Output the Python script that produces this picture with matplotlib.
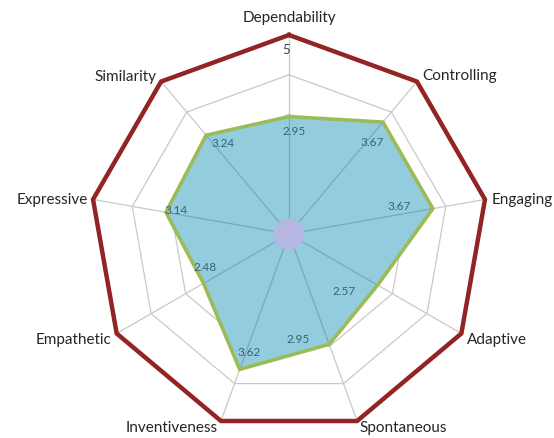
import numpy as np
from matplotlib import pyplot as plt

# categories clockwise from the top
categories = ['Dependability', 'Controlling', 'Engaging', 'Adaptive', 'Spontaneous',
              'Inventiveness', 'Empathetic', 'Expressive', 'Similarity']
scores = [2.95, 3.67, 3.67, 2.57, 2.95, 3.62, 2.48, 3.14, 3.24]
outer = [5] * len(categories)       # the red "max" series
inner = [0.38] * len(categories)    # small lavender series at the centre
grid_levels = [1, 2, 3, 4]
axis_max = 5

# label offsets in points (hand placed to match the reference)
value_offsets = [(4, -10), (-8, -14), (-24, 2), (-24, -4), (-22, 4),
                 (7, 13), (1, 12), (7, 2), (12, -5)]
cat_offsets = [((0, 13), 'center'), ((4, 5), 'left'), ((5, 0), 'left'),
               ((4, -4), 'left'), ((2, -4), 'left'), ((-2, -4), 'right'),
               ((-4, -4), 'right'), ((-4, 0), 'right'), ((-3, 4), 'right')]

plt.rcParams['font.family'] = ['Lato', 'DejaVu Sans']

n = len(categories)
theta = np.linspace(0, 2 * np.pi, n, endpoint=False)
closed = np.append(theta, theta[0])


def loop(vals):
    return np.append(vals, vals[0])


fig = plt.figure(figsize=(5.54, 4.39), dpi=100)
ax = fig.add_axes([0.1625, 0.0114, 0.7184, 0.9066], projection='polar')
ax.set_theta_zero_location('N')
ax.set_theta_direction(-1)
ax.set_ylim(0, axis_max)
ax.grid(False)
ax.spines['polar'].set_visible(False)
ax.set_xticks([])
ax.set_yticks([])
ax.patch.set_alpha(0)

# web gridlines and spokes
for lvl in grid_levels:
    ax.plot(closed, [lvl] * (n + 1), color='#c9c9c9', lw=0.9, zorder=1)
for t in theta:
    ax.plot([t, t], [0, axis_max], color='#c9c9c9', lw=0.9, zorder=1)

# score area
ax.fill(closed, loop(scores), color='#93cddd', zorder=2)
for t, v in zip(theta, scores):
    ax.plot([t, t], [0, v], color='#7fa6b6', lw=0.9, zorder=3)
ax.plot(closed, loop(scores), color='#9bbb59', lw=2.6, zorder=4, solid_joinstyle='miter')

# centre nonagon
ax.fill(closed, loop(inner), color='#b6b6e2', zorder=5)

# outer red ring
ax.plot(closed, loop(outer), color='#922424', lw=3.2, zorder=6, clip_on=False,
        solid_joinstyle='miter')

# value labels
for t, v, off in zip(theta, scores, value_offsets):
    ax.annotate(f'{v:.2f}', xy=(t, v), xytext=off, textcoords='offset points',
                ha='center', va='center', fontsize=8.5, color='#3a6178', zorder=7)

# category labels
for t, name, (off, ha) in zip(theta, categories, cat_offsets):
    ax.annotate(name, xy=(t, axis_max), xytext=off, textcoords='offset points',
                ha=ha, va='center', fontsize=11, color='#262626',
                annotation_clip=False)

# axis max label
ax.annotate('5', xy=(0, axis_max), xytext=(-2, -10), textcoords='offset points',
            ha='center', va='center', fontsize=9.5, color='#404040')

fig.savefig('out.png', dpi=100)
